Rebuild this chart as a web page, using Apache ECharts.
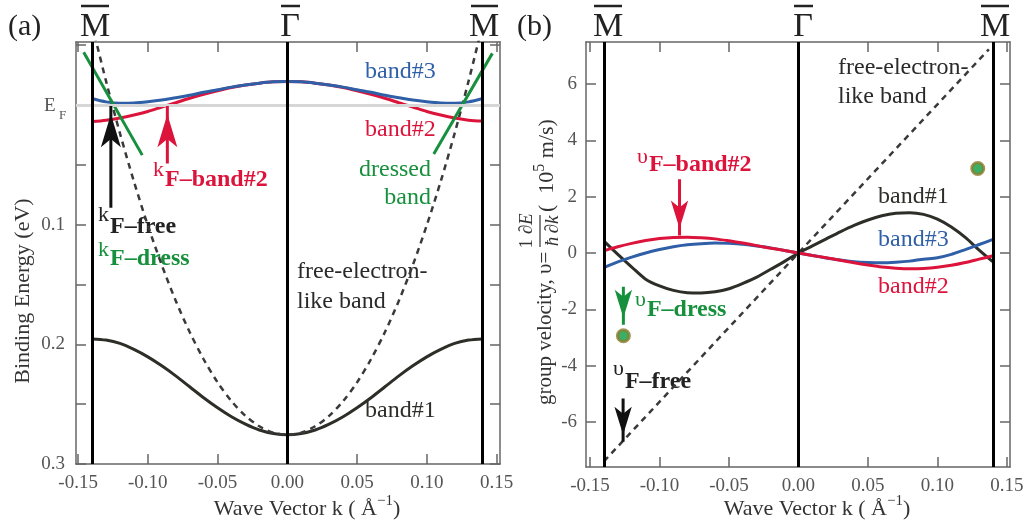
<!DOCTYPE html>
<html>
<head>
<meta charset="utf-8">
<script src="https://cdn.jsdelivr.net/npm/echarts@6/dist/echarts.min.js"></script>
<style>
  html, body { margin: 0; padding: 0; background: #fff; }
  #chart { width: 1034px; height: 529px; }
</style>
</head>
<body>
<div id="chart"></div>
<script>
// wave vector samples (1/Å)
const kGrid = [-0.14, -0.13, -0.12, -0.11, -0.10, -0.09, -0.08, -0.07, -0.06, -0.05, -0.04, -0.03, -0.02, -0.01, 0,
  0.01, 0.02, 0.03, 0.04, 0.05, 0.06, 0.07, 0.08, 0.09, 0.10, 0.11, 0.12, 0.13, 0.14]

// (a) binding energy (eV)
const bindBand1 = [0.1955, 0.1965, 0.1993, 0.2043, 0.2105, 0.218, 0.2264, 0.2355, 0.2446, 0.253, 0.2605, 0.2667, 0.2716, 0.2745, 0.2755,
  0.2745, 0.2716, 0.2667, 0.2605, 0.253, 0.2446, 0.2355, 0.2264, 0.218, 0.2105, 0.2043, 0.1993, 0.1965, 0.1955]
const bindBand2 = [0.014, 0.0128, 0.011, 0.0085, 0.0055, 0.0018, -0.0018, -0.0055, -0.0088, -0.0118, -0.0145, -0.0166, -0.0181, -0.0192, -0.0196,
  -0.0192, -0.0181, -0.0166, -0.0145, -0.0118, -0.0088, -0.0055, -0.0018, 0.0018, 0.0055, 0.0085, 0.011, 0.0128, 0.0135]
const bindBand3 = [-0.0053, -0.0025, -0.0014, -0.0016, -0.0026, -0.004, -0.006, -0.008, -0.0105, -0.0126, -0.0148, -0.0166, -0.0181, -0.0192, -0.0196,
  -0.0192, -0.0181, -0.0166, -0.0148, -0.0126, -0.0105, -0.008, -0.006, -0.004, -0.0026, -0.0016, -0.0014, -0.0025, -0.0053]
const bindFree = [-0.067, -0.02, 0.0237, 0.0639, 0.1006, 0.1338, 0.1636, 0.1898, 0.2125, 0.2318, 0.2475, 0.2598, 0.2685, 0.2738, 0.2755,
  0.2738, 0.2685, 0.2598, 0.2475, 0.2318, 0.2125, 0.1898, 0.1636, 0.1338, 0.1006, 0.0639, 0.0237, -0.02, -0.067]
const dressLeft = [[-0.146, -0.044], [-0.104, 0.042]]
const dressRight = [[0.147, -0.043], [0.105, 0.041]]

// (b) group velocity (10^5 m/s)
const velBand1 = [0.42, -0.05, -0.5, -0.93, -1.17, -1.33, -1.41, -1.42, -1.38, -1.27, -1.08, -0.86, -0.58, -0.3, 0,
  0.25, 0.5, 0.75, 0.98, 1.17, 1.32, 1.41, 1.43, 1.37, 1.2, 0.92, 0.55, 0.1, -0.32]
const velBand2 = [0.08, 0.22, 0.34, 0.44, 0.51, 0.55, 0.56, 0.54, 0.5, 0.43, 0.35, 0.26, 0.17, 0.09, 0,
  -0.09, -0.17, -0.26, -0.35, -0.43, -0.5, -0.54, -0.56, -0.55, -0.51, -0.44, -0.34, -0.22, -0.1]
const velBand3 = [-0.52, -0.32, -0.15, 0, 0.12, 0.22, 0.29, 0.33, 0.35, 0.34, 0.31, 0.25, 0.18, 0.09, 0,
  -0.09, -0.18, -0.25, -0.31, -0.34, -0.35, -0.33, -0.29, -0.22, -0.17, -0.05, 0.12, 0.3, 0.48]
const kFreeV = [-0.14, 0, 0.137]
const velFree = [-7.4, 0, 7.23]
const dressDots = [[-0.126, -2.94], [0.129, 3.0]]

// symmetry points M, Gamma, M
const symPoints = [-0.14, 0, 0.14]

// arrows: [k, from, to, colour]
const arrowsA = [[-0.1265, 0.086, 0.001, '#111'], [-0.086, 0.049, 0.001, '#dc143c']]
const arrowsB = [[-0.0856, 2.62, 0.62, '#dc143c'], [-0.126, -1.2, -2.55, '#17903d'], [-0.1262, -5.17, -6.7, '#111']]

// ticks
const kTicks = [-0.15, -0.10, -0.05, 0, 0.05, 0.10, 0.15]
const eTicks = [-0.05, 0, 0.05, 0.1, 0.15, 0.2, 0.25, 0.3]
const eLabels = [0.1, 0.2, 0.3]
const vTicks = [-6, -4, -2, 0, 2, 4, 6]

const SERIF = "'Liberation Serif', 'DejaVu Serif', serif"
const RED = '#dc143c'
const BLUE = '#2f5fa6'
const GREEN = '#17903d'
const DARK = '#2e2e29'
const AXIS = '#666'

const pair = (xs, ys) => xs.map((x, i) => [x, ys[i]])

const measureCtx = document.createElement('canvas').getContext('2d')
const textWidth = (s, font) => {
  measureCtx.font = font
  return measureCtx.measureText(s).width
}

const chart = echarts.init(document.getElementById('chart'))

const xAxisBase = (grid, pos, showLabel) => ({
  type: 'value', gridIndex: grid, position: pos,
  min: grid === 0 ? -0.1515 : -0.1529, max: grid === 0 ? 0.1525 : 0.1522,
  axisLine: { show: true, onZero: false, lineStyle: { color: AXIS, width: 1.5 } },
  axisTick: { show: true, inside: true, length: 10, customValues: kTicks, lineStyle: { color: AXIS, width: 1.5 } },
  axisLabel: {
    show: showLabel, customValues: kTicks, margin: 10, color: '#555', fontSize: 19, fontFamily: SERIF,
    formatter: (v) => (Math.abs(v) < 1e-9 ? '0.00' : v.toFixed(2))
  },
  splitLine: { show: false }
})

const yAxisA = (pos, showLabel) => ({
  type: 'value', gridIndex: 0, position: pos, inverse: true, min: -0.0525, max: 0.3,
  axisLine: { show: true, onZero: false, lineStyle: { color: AXIS, width: 1.5 } },
  axisTick: { show: true, inside: true, length: 10, customValues: eTicks, lineStyle: { color: AXIS, width: 1.5 } },
  axisLabel: { show: showLabel, customValues: eLabels, margin: 11, color: '#555', fontSize: 19, fontFamily: SERIF, formatter: (v) => String(v) },
  splitLine: { show: false }
})

const yAxisB = (pos, showLabel) => ({
  type: 'value', gridIndex: 1, position: pos, min: -7.6, max: 7.49,
  axisLine: { show: true, onZero: false, lineStyle: { color: AXIS, width: 1.5 } },
  axisTick: { show: true, inside: true, length: 10, customValues: vTicks, lineStyle: { color: AXIS, width: 1.5 } },
  axisLabel: { show: showLabel, customValues: vTicks, margin: 9, color: '#555', fontSize: 19, fontFamily: SERIF, formatter: (v) => String(v) },
  splitLine: { show: false }
})

const curve = (grid, data, color, z, extra) => Object.assign({
  type: 'line', xAxisIndex: grid * 2, yAxisIndex: grid * 2, data, symbol: 'none', smooth: 0.3,
  lineStyle: { color, width: 3 }, itemStyle: { color }, z, silent: true, animation: false
}, extra || {})

// the arrow symbol is 4/3 as wide as its size, and the offset ends up applied twice
const arrowSeries = (grid, list) => list.map(([k, from, to, color]) => {
  const up = (grid === 0) ? (to < from) : (to > from)
  const size = grid === 0 ? [15, 33] : [13, 28]
  return {
    type: 'line', xAxisIndex: grid * 2, yAxisIndex: grid * 2, symbol: 'none', z: 6, silent: true, animation: false,
    lineStyle: { color, width: 3 }, itemStyle: { color },
    data: [
      { value: [k, from], symbol: 'none' },
      { value: [k, to], symbol: 'arrow', symbolSize: size, symbolRotate: up ? 0 : 180, symbolOffset: [0, (up ? 1 : -1) * size[1] / 4] }
    ]
  }
})

const vLines = (grid) => ({
  type: 'line', xAxisIndex: grid * 2, yAxisIndex: grid * 2, data: [], z: 5, silent: true, animation: false,
  markLine: {
    silent: true, symbol: 'none', animation: false, label: { show: false },
    lineStyle: { color: '#000', width: 3, type: 'solid' },
    data: symPoints.map((v) => ({ xAxis: v }))
  }
})

const series = [
  // (a)
  {
    type: 'line', xAxisIndex: 0, yAxisIndex: 0, data: [], z: 1, silent: true, animation: false,
    markLine: { silent: true, symbol: 'none', animation: false, label: { show: false }, lineStyle: { color: '#d6d6d6', width: 3, type: 'solid' }, data: [{ yAxis: 0 }] }
  },
  curve(0, pair(kGrid, bindBand1), DARK, 2),
  curve(0, pair(kGrid, bindFree), '#3a3a3a', 2, { lineStyle: { color: '#3a3a3a', width: 2.5, type: [6, 5] } }),
  curve(0, pair(kGrid, bindBand2), RED, 3),
  curve(0, pair(kGrid, bindBand3), BLUE, 3),
  curve(0, dressLeft, GREEN, 4, { smooth: false }),
  curve(0, dressRight, GREEN, 4, { smooth: false }),
  vLines(0),
  ...arrowSeries(0, arrowsA),
  // (b)
  curve(1, pair(kFreeV, velFree), '#3a3a3a', 2, { smooth: false, lineStyle: { color: '#3a3a3a', width: 2.5, type: [6, 5] } }),
  curve(1, pair(kGrid, velBand1), DARK, 3),
  curve(1, pair(kGrid, velBand3), BLUE, 3),
  curve(1, pair(kGrid, velBand2), RED, 3),
  vLines(1),
  ...arrowSeries(1, arrowsB),
  {
    type: 'scatter', xAxisIndex: 2, yAxisIndex: 2, data: dressDots, symbolSize: 12, z: 7, silent: true, animation: false,
    itemStyle: { color: '#0d9a3c', borderColor: '#8a7a2c', borderWidth: 3 }
  }
]

// text helpers
const txt = (x, y, text, color, size, align, extra) => Object.assign({
  type: 'text', x, y, silent: true,
  style: {
    text, fill: color, font: size + 'px ' + SERIF,
    align: align || 'left', textAlign: align || 'left', verticalAlign: 'middle', textVerticalAlign: 'middle'
  }
}, extra || {})

// main letter (regular, raised) followed by a bold subscript
const subLabel = (x, yMain, ySub, main, sub, color) => {
  const mainFont = '22px ' + SERIF
  const w = textWidth(main, mainFont)
  return [
    txt(x, yMain, main, color, 22),
    { type: 'text', x: x + w + 1, y: ySub, silent: true,
      style: { text: sub, fill: color, font: 'bold 24px ' + SERIF, align: 'left', textAlign: 'left', verticalAlign: 'middle', textVerticalAlign: 'middle' } }
  ]
}

const bar = (x1, x2, y) => ({ type: 'line', silent: true, shape: { x1, y1: y, x2, y2: y }, style: { stroke: '#222', lineWidth: 2.5 } })

const xTitle = (x) => ({
  type: 'text', x, y: 507, silent: true,
  style: {
    text: '{a|Wave Vector k ( Å}{s|\u22121}{a|)}', align: 'center', textAlign: 'center', verticalAlign: 'middle', textVerticalAlign: 'middle',
    rich: {
      a: { fontSize: 22, fontFamily: SERIF, fill: '#333', color: '#333', lineHeight: 26, verticalAlign: 'bottom' },
      s: { fontSize: 15, fontFamily: SERIF, fill: '#333', color: '#333', lineHeight: 15, verticalAlign: 'top' }
    }
  }
})

const fracPart = (x, y, text) => ({
  type: 'text', x, y, silent: true,
  style: {
    text, align: 'center', textAlign: 'center', verticalAlign: 'middle', textVerticalAlign: 'middle',
    rich: {
      n: { fontSize: 19, fontFamily: SERIF, fill: '#333', color: '#333' },
      i: { fontSize: 19, fontFamily: SERIF, fontStyle: 'italic', fill: '#333', color: '#333' }
    }
  }
})

const graphic = [
  // panel letters and symmetry points
  txt(8, 27, '(a)', '#222', 30),
  txt(517, 27, '(b)', '#222', 30),
  txt(95, 27, 'M', '#222', 34, 'center'), bar(81, 109, 6),
  txt(290, 27, 'Γ', '#222', 34, 'center'), bar(281, 300, 6),
  txt(484, 27, 'M', '#222', 34, 'center'), bar(471, 498, 6),
  txt(608, 27, 'M', '#222', 34, 'center'), bar(594, 622, 6),
  txt(803, 27, 'Γ', '#222', 34, 'center'), bar(794, 813, 6),
  txt(995, 27, 'M', '#222', 34, 'center'), bar(981, 1009, 6),

  // E_F label
  txt(44, 106, 'E', '#555', 19),
  txt(59, 116, 'F', '#555', 13),

  // (a) annotations
  txt(365, 72, 'band#3', BLUE, 24),
  txt(365, 130, 'band#2', RED, 24),
  txt(365, 411, 'band#1', DARK, 24),
  txt(431, 170, 'dressed', GREEN, 24, 'right'),
  txt(431, 198, 'band', GREEN, 24, 'right'),
  txt(297, 272, 'free-electron-', '#2a2a2a', 24),
  txt(297, 302, 'like band', '#2a2a2a', 24),
  ...subLabel(153, 170.5, 180, 'k', 'F\u2013band#2', RED),
  ...subLabel(98, 215.5, 227, 'k', 'F\u2013free', '#222'),
  ...subLabel(98, 250.5, 259, 'k', 'F\u2013dress', GREEN),

  // (b) annotations
  txt(838, 68, 'free-electron-', '#2a2a2a', 24),
  txt(838, 97, 'like band', '#2a2a2a', 24),
  txt(878, 197, 'band#1', DARK, 24),
  txt(878, 240, 'band#3', BLUE, 24),
  txt(878, 287, 'band#2', RED, 24),
  ...subLabel(637, 157.5, 165, 'υ', 'F\u2013band#2', RED),
  ...subLabel(635, 300.5, 310, 'υ', 'F\u2013dress', GREEN),
  ...subLabel(613, 369.5, 382, 'υ', 'F\u2013free', '#222'),

  // axis titles
  txt(23, 291, 'Binding Energy (eV)', '#333', 22, 'center', { rotation: Math.PI / 2 }),
  xTitle(307),
  xTitle(817),
  {
    type: 'group', x: 545, y: 405, rotation: Math.PI / 2, silent: true,
    children: [
      txt(0, 0, 'group velocity, υ=', '#333', 21),
      fracPart(174, -18, '{n|1 ∂}{i|E}'),
      { type: 'line', shape: { x1: 158, y1: -5, x2: 190, y2: -5 }, style: { stroke: '#333', lineWidth: 1.2 } },
      fracPart(174, 8, '{i|ħ} {n|∂}{i|k}'),
      {
        type: 'text', x: 193, y: 0, silent: true,
        style: {
          text: '{a|(  10}{s|5}{a| m/s)}', align: 'left', textAlign: 'left', verticalAlign: 'middle', textVerticalAlign: 'middle',
          rich: {
            a: { fontSize: 22, fontFamily: SERIF, fill: '#333', color: '#333', lineHeight: 26, verticalAlign: 'bottom' },
            s: { fontSize: 16, fontFamily: SERIF, fill: '#333', color: '#333', lineHeight: 16, verticalAlign: 'top' }
          }
        }
      }
    ]
  }
]

chart.setOption({
  animation: false,
  backgroundColor: '#fff',
  grid: [
    { left: 76, top: 42, width: 424, height: 422 },
    { left: 586, top: 42, width: 424, height: 425 }
  ],
  xAxis: [xAxisBase(0, 'bottom', true), xAxisBase(0, 'top', false), xAxisBase(1, 'bottom', true), xAxisBase(1, 'top', false)],
  yAxis: [yAxisA('left', true), yAxisA('right', false), yAxisB('left', true), yAxisB('right', false)],
  series,
  graphic
})

window.addEventListener('resize', function () {
  chart.resize()
})
</script>
</body>
</html>
